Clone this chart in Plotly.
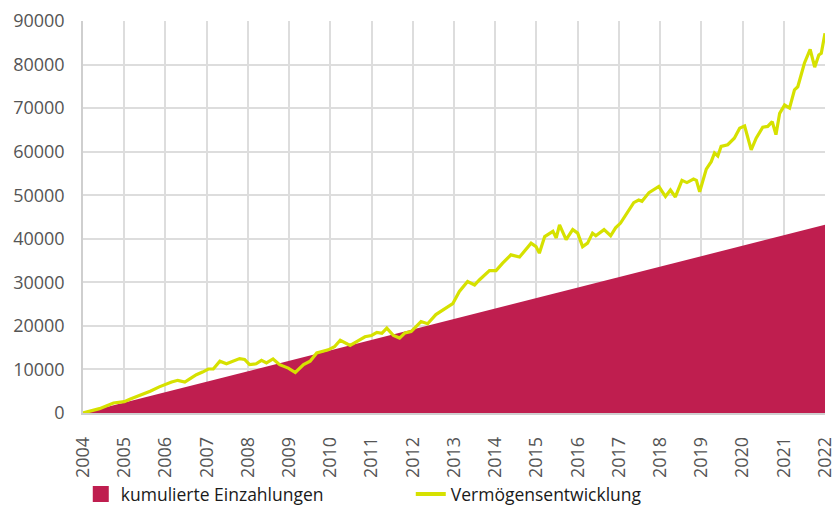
import plotly.graph_objects as go

# --- data ---
years = [2004, 2005, 2006, 2007, 2008, 2009, 2010, 2011, 2012, 2013,
         2014, 2015, 2016, 2017, 2018, 2019, 2020, 2021, 2022]
einzahlungen = [0, 2400, 4800, 7200, 9600, 12000, 14400, 16800, 19200, 21600,
                24000, 26400, 28800, 31200, 33600, 36000, 38400, 40800, 43200]

verm_x = [2004.0, 2004.4, 2004.74, 2005.0, 2005.15, 2005.4, 2005.63, 2005.85, 2006.03, 2006.15,
          2006.3, 2006.47, 2006.6, 2006.75, 2006.9, 2007.04, 2007.16, 2007.32, 2007.48, 2007.65,
          2007.8, 2007.92, 2008.04, 2008.2, 2008.33, 2008.45, 2008.61, 2008.77, 2008.98, 2009.15,
          2009.35, 2009.51, 2009.67, 2009.95, 2010.1, 2010.24, 2010.36, 2010.48, 2010.64, 2010.84,
          2011.0, 2011.13, 2011.25, 2011.37, 2011.53, 2011.68, 2011.81, 2011.96, 2012.2, 2012.36,
          2012.56, 2012.85, 2012.97, 2013.13, 2013.33, 2013.5, 2013.62, 2013.86, 2014.02, 2014.18,
          2014.38, 2014.59, 2014.87, 2014.99, 2015.07, 2015.2, 2015.4, 2015.48, 2015.56, 2015.72,
          2015.88, 2016.0, 2016.12, 2016.24, 2016.36, 2016.44, 2016.64, 2016.8, 2016.92, 2017.04,
          2017.2, 2017.36, 2017.48, 2017.56, 2017.73, 2017.97, 2018.13, 2018.25, 2018.37, 2018.53,
          2018.65, 2018.81, 2018.88, 2018.96, 2019.12, 2019.24, 2019.32, 2019.4, 2019.48, 2019.64,
          2019.8, 2019.93, 2020.05, 2020.21, 2020.33, 2020.49, 2020.61, 2020.72, 2020.81, 2020.9,
          2021.02, 2021.14, 2021.26, 2021.34, 2021.5, 2021.64, 2021.75, 2021.85, 2021.91, 2022.0]
verm_y = [0, 1000, 2300, 2600, 3200, 4100, 5000, 6000, 6700, 7100,
          7500, 7100, 7900, 8800, 9400, 10100, 10100, 11900, 11300, 12000,
          12500, 12300, 11100, 11300, 12100, 11500, 12400, 11100, 10300, 9300,
          11100, 11900, 13800, 14500, 15200, 16700, 16200, 15500, 16400, 17500,
          17800, 18500, 18300, 19500, 17800, 17200, 18400, 18700, 21000, 20500,
          22600, 24500, 25100, 27900, 30200, 29400, 30600, 32700, 32700, 34400,
          36300, 35800, 39000, 38200, 36700, 40500, 41700, 40200, 43200, 39800,
          42100, 41300, 38200, 39000, 41300, 40700, 42100, 40700, 42500, 43600,
          46000, 48300, 48900, 48600, 50600, 52000, 49700, 51200, 49600, 53400,
          52900, 53700, 53400, 50800, 56000, 57700, 59700, 59000, 61200, 61600,
          63100, 65400, 65900, 60400, 63100, 65600, 65800, 66900, 63900, 68800,
          70700, 70000, 74200, 74900, 80300, 83500, 79400, 82200, 82600, 87200]

y_ticks = [0, 10000, 20000, 30000, 40000, 50000, 60000, 70000, 80000, 90000]
x_tick_labels = [str(y) for y in years]

CRIMSON = "#BF1E4F"
LIME = "#D6E100"
TICK_FONT = "Open Sans"
LEG_FONT = "Open Sans"

fig = go.Figure()
fig.add_trace(go.Scatter(
    x=years, y=einzahlungen, mode="lines", fill="tozeroy",
    fillcolor=CRIMSON, line=dict(width=0, color=CRIMSON),
    showlegend=False, hoverinfo="skip"))
fig.add_trace(go.Scatter(
    x=verm_x, y=verm_y, mode="lines",
    line=dict(color=LIME, width=3.2), showlegend=False))
# legend entries
fig.add_trace(go.Scatter(
    x=[None], y=[None], mode="markers", name="kumulierte Einzahlungen",
    marker=dict(symbol="square", size=18, color=CRIMSON, line=dict(width=0))))
fig.add_trace(go.Scatter(
    x=[None], y=[None], mode="lines", name="Vermögensentwicklung",
    line=dict(color=LIME, width=4)))

fig.update_layout(
    width=835, height=507,
    margin=dict(l=83, r=10, t=21, b=94, autoexpand=False),
    paper_bgcolor="white", plot_bgcolor="white",
    font=dict(family=TICK_FONT, color="#555555", size=16),
    showlegend=True,
    legend=dict(orientation="h", x=-0.003, xanchor="left", y=-0.207, yanchor="middle",
                entrywidth=285, entrywidthmode="pixels",
                font=dict(family=LEG_FONT, size=17.5, color="#1a1a1a"),
                bgcolor="rgba(0,0,0,0)"),
    xaxis=dict(range=[2004, 2022], tickvals=years, ticktext=x_tick_labels,
               tickangle=-90, showgrid=True, gridcolor="#dddddd", gridwidth=1.5,
               showline=True, linecolor="#cfcfcf", linewidth=1.5, zeroline=False,
               ticks="outside", ticklen=15, tickcolor="rgba(0,0,0,0)",
               automargin=False, ticklabeloverflow="allow",
               tickfont=dict(family=TICK_FONT, size=18, color="#555555")),
    yaxis=dict(range=[0, 90000], tickvals=y_ticks, ticktext=[str(v) for v in y_ticks],
               showgrid=True, gridcolor="#dddddd", gridwidth=1.5,
               showline=True, linecolor="#cfcfcf", linewidth=1.5, zeroline=False,
               ticks="outside", ticklen=13, tickcolor="rgba(0,0,0,0)",
               automargin=False, ticklabeloverflow="allow",
               tickfont=dict(family=TICK_FONT, size=18, color="#555555")),
)

fig.write_html("out.html", config={"displayModeBar": False},
               post_script="document.body.style.margin='0';document.body.style.padding='0';")
